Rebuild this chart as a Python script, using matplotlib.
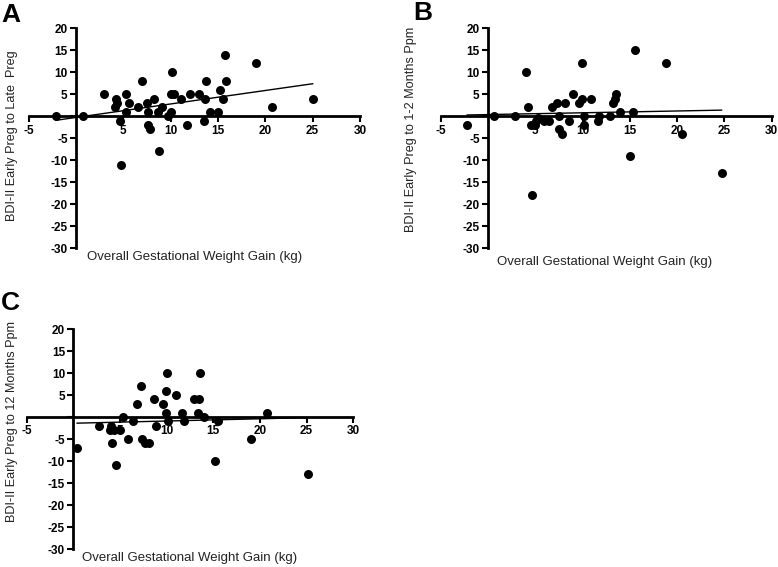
import matplotlib
matplotlib.use("Agg")
import matplotlib.pyplot as plt

plt.rcParams['font.family'] = ['Liberation Sans', 'DejaVu Sans']

# ---------------- data ----------------
a_x = [-2.1, 0.7, 3.0, 4.2, 4.1, 4.3, 4.65, 4.75, 5.25, 5.3, 5.6, 6.5, 7.0, 7.5, 7.6, 7.6, 7.8,
       8.2, 8.7, 9.1, 8.8, 9.75, 10.0, 10.1, 10.0, 10.3, 11.1, 11.7, 12.0, 13.0, 13.5, 13.6, 13.7,
       14.2, 15.0, 15.2, 15.5, 15.7, 15.8, 19.0, 20.7, 25.0]
a_y = [0, 0, 5, 4, 2, 3, -1, -11, 5, 1, 3, 2, 8, 3, 1, -2, -3,
       4, 1, 2, -8, 0, 1, 10, 5, 5, 4, -2, 5, 5, -1, 4, 8,
       1, 1, 6, 4, 14, 8, 12, 2, 4]
a_fit_x = [-2.1, 25.0]
a_fit_y = [-0.9, 7.4]

b_x = [-2.2, 0.6, 2.9, 4.0, 4.2, 4.5, 4.65, 5.0, 5.1, 5.3, 5.9, 6.5, 6.8, 7.3, 7.5, 7.5, 7.8,
       8.1, 8.6, 9.0, 9.6, 9.9, 9.9, 10.1, 10.1, 10.9, 11.6, 11.7, 12.9, 13.2, 13.4, 13.5, 14.0,
       15.0, 15.3, 15.5, 18.8, 20.5, 24.7]
b_y = [-2, 0, 0, 10, 2, -2, -18, -2, -1, -0.5, -1, -1, 2, 3, 0, -3, -4,
       3, -1, 5, 3, 12, 4, -2, 0, 4, -1, 0, 0, 3, 4, 5, 1,
       -9, 1, 15, 12, -4, -13]
b_fit_x = [-2.2, 24.7]
b_fit_y = [0.3, 1.4]

c_x = [0.4, 2.75, 3.9, 4.0, 4.1, 4.35, 4.6, 5.0, 5.35, 5.9, 6.4, 6.8, 7.3, 7.4, 7.7, 8.1,
       8.6, 8.9, 9.6, 9.9, 9.9, 10.0, 10.1, 11.0, 11.6, 11.9, 12.9, 13.5, 13.4, 13.6, 14.0,
       15.2, 15.5, 19.0, 20.75, 25.1]
c_y = [-7, -2, -3, -2, -6, -3, -11, -3, 0, -5, -1, 3, 7, -5, -6, -6,
       4, -2, 3, 6, 1, 10, -1, 5, 1, -1, 4, 4, 1, 10, 0,
       -10, -1, -5, 1, -13]
c_fit_x = [0.4, 25.0]
c_fit_y = [-1.4, -0.15]

x_ticks = [-5, 5, 10, 15, 20, 25, 30]
y_ticks = [20, 15, 10, 5, 0, -5, -10, -15, -20, -25, -30]
y_tick_labels = ['20', '15', '10', '5', '', '-5', '-10', '-15', '-20', '-25', '-30']
x_label = 'Overall Gestational Weight Gain (kg)'
y_labels = ['BDI-II Early Preg to Late  Preg',
            'BDI-II Early Preg to 1-2 Months Ppm',
            'BDI-II Early Preg to 12 Months Ppm']
letters = ['A', 'B', 'C']

# ---------------- figure ----------------
W, H = 778, 567
fig = plt.figure(figsize=(W / 100, H / 100), dpi=100)


def fx(px):
    return px / W


def fy(py):
    return 1 - py / H


# axes rectangles in pixels: (left, top, right, bottom) of data range -5..30, 20..-30
rects = [(28.7, 28.3, 360.0, 248.3),
         (440.7, 28.3, 771.7, 248.3),
         (26.7, 329.0, 353.3, 549.0)]
panels = [(a_x, a_y, a_fit_x, a_fit_y),
          (b_x, b_y, b_fit_x, b_fit_y),
          (c_x, c_y, c_fit_x, c_fit_y)]
ylabel_pos = [(12, 136), (411, 129), (12, 422)]
xlabel_pos = [(195, 257), (605, 262), (190, 558)]
letter_pos = [(1, 3), (413, 1), (1, 291)]

for i, (rect, (xs, ys, fxs, fys)) in enumerate(zip(rects, panels)):
    l, t, r, b = rect
    ax = fig.add_axes([fx(l), fy(b), fx(r) - fx(l), fy(t) - fy(b)])
    ax.set_xlim(-5, 30)
    ax.set_ylim(-30, 20)
    ax.scatter(xs, ys, s=42, color='black', zorder=3, linewidths=0)
    ax.plot(fxs, fys, color='black', lw=1.0, zorder=2)

    for s in ['top', 'right']:
        ax.spines[s].set_visible(False)
    ax.spines['left'].set_position(('data', 0))
    ax.spines['bottom'].set_position(('data', 0))
    ax.spines['left'].set_linewidth(2)
    ax.spines['bottom'].set_linewidth(2)
    ax.patch.set_visible(False)

    ax.set_xticks(x_ticks)
    ax.set_xticklabels([str(v) for v in x_ticks])
    ax.set_yticks(y_ticks)
    ax.set_yticklabels(y_tick_labels)
    ax.tick_params(axis='both', direction='out', length=4, width=1.5,
                   labelsize=8.5, pad=2)
    for lab in ax.get_xticklabels() + ax.get_yticklabels():
        lab.set_fontweight('bold')

    lx, ly = ylabel_pos[i]
    fig.text(fx(lx), fy(ly), y_labels[i], rotation=90, ha='center', va='center',
             fontsize=9.1, color='#222222')
    xx, xy = xlabel_pos[i]
    fig.text(fx(xx), fy(xy), x_label, ha='center', va='center', fontsize=9.5,
             color='#222222')
    px, py = letter_pos[i]
    fig.text(fx(px), fy(py), letters[i], ha='left', va='top', fontsize=19,
             fontweight='bold')

fig.savefig('out.png', dpi=100)
